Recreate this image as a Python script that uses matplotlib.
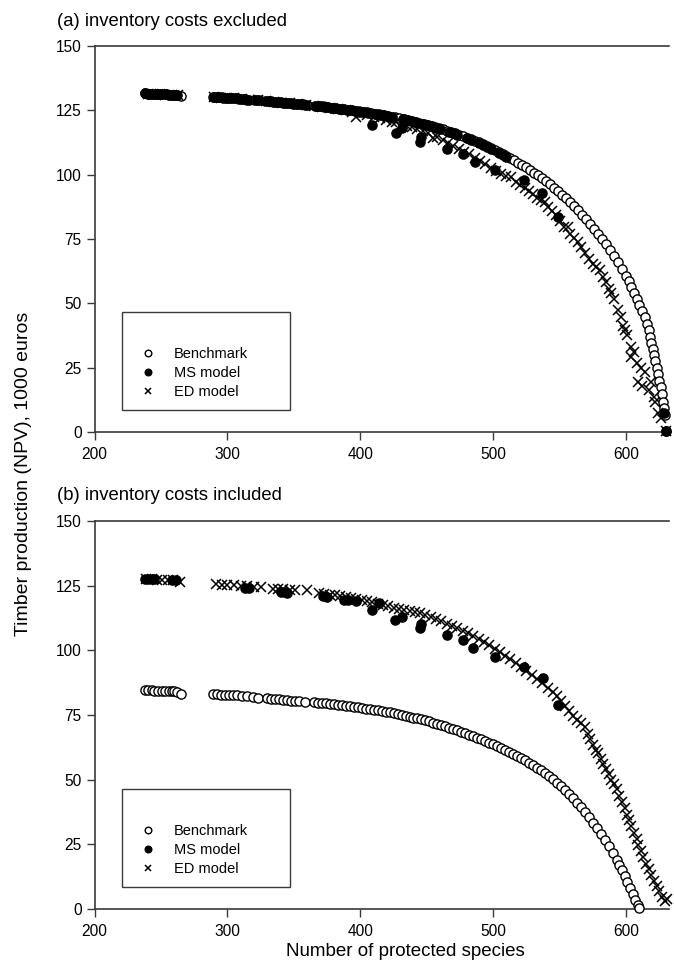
import matplotlib
matplotlib.use("Agg")
import matplotlib.pyplot as plt
from matplotlib.patches import Rectangle

plt.rcParams['font.family'] = ['Liberation Sans', 'DejaVu Sans']

# ---- (a) inventory costs excluded ----
bench_a_x = [238, 240, 242, 245, 247, 249, 251, 254, 256, 258, 260, 262, 265,
             289, 291, 294, 296, 299, 301, 304, 307, 310, 313, 316, 321, 324,
             330, 333, 336, 339, 342, 345, 348, 351, 354, 357, 360, 366, 369,
             372, 375, 378, 381, 384, 387, 390, 393, 396, 399, 402, 405, 408,
             411, 414, 417, 420, 423, 426, 429, 432, 435, 438, 441, 444, 447,
             450, 453, 456, 459, 462, 465, 468, 471, 474, 477, 480, 483, 486,
             489, 492, 495, 498, 501, 504, 507, 510, 513, 516, 519, 522, 525,
             528, 531, 534, 537, 540, 543, 546, 549, 552, 555, 558, 561, 564,
             567, 570, 573, 576, 579, 582, 585, 588, 591, 594, 597, 600, 602,
             604, 606, 608, 610, 612, 614, 616, 617, 618, 619, 620, 621, 622,
             623, 624, 625, 626, 627, 628, 628.5, 629, 630]
bench_a_y = [131.6, 131.5, 131.5, 131.4, 131.3, 131.4, 131.2, 131.2, 131.1, 131.0, 131.1, 130.8, 130.4,
             130.2, 130.1, 130.0, 130.0, 129.9, 129.8, 129.7, 129.6, 129.5, 129.4, 129.2, 129.0, 128.9,
             128.6, 128.5, 128.3, 128.2, 128.0, 127.9, 127.7, 127.6, 127.4, 127.3, 127.1, 126.8, 126.6,
             126.5, 126.3, 126.1, 125.9, 125.7, 125.5, 125.3, 125.1, 124.9, 124.6, 124.4, 124.2, 123.9,
             123.7, 123.4, 123.1, 122.9, 122.6, 122.3, 122.0, 121.7, 121.3, 121.0, 120.6, 120.2, 119.8,
             119.4, 119.0, 118.5, 118.1, 117.6, 117.1, 116.6, 116.0, 115.5, 114.9, 114.3, 113.7, 113.1,
             112.5, 111.8, 111.1, 110.4, 109.7, 108.9, 108.1, 107.3, 106.5, 105.6, 104.7, 103.8, 102.8,
             101.8, 100.8, 99.7, 98.6, 97.4, 96.2, 94.9, 93.6, 92.2, 90.8, 89.3, 87.7, 86.1,
             84.4, 82.6, 80.8, 78.9, 77.0, 75.0, 72.9, 70.7, 68.4, 66.0, 63.4, 60.6, 58.6,
             56.5, 54.2, 51.8, 49.4, 47.0, 44.6, 42.1, 39.5, 37.1, 34.7, 32.3, 29.9, 27.4,
             25.0, 22.5, 20.0, 17.4, 14.7, 11.8, 9.2, 6.8, 0.4]

ms_a_x = [238, 240, 243, 246, 248, 251, 254, 257, 260, 262,
          290, 293, 297, 300, 303, 306, 309, 312, 315, 322, 328, 331, 334, 337,
          340, 343, 346, 349, 352, 355, 358, 367, 370, 373, 376, 379, 382, 385,
          388, 391, 394, 397, 400, 403, 406, 408.6, 412, 415, 418, 421, 424, 427,
          431, 433, 436, 439, 442, 445, 446, 448, 451, 454, 457, 460, 465, 467,
          470, 473, 477.5, 480, 483, 486, 489, 492, 495, 498, 501.6, 504, 507,
          510, 523, 537, 549, 628.5, 630]
ms_a_y = [131.6, 131.5, 131.4, 131.4, 131.3, 131.2, 131.3, 131.1, 131.0, 130.9,
          130.1, 130.0, 129.9, 129.8, 129.8, 129.6, 129.5, 129.4, 129.2, 129.0, 128.7, 128.6, 128.4, 128.3,
          128.1, 128.0, 127.8, 127.6, 127.5, 127.3, 127.2, 126.7, 126.5, 126.4, 126.2, 126.0, 125.8, 125.6,
          125.4, 125.2, 125.0, 124.7, 124.5, 124.3, 124.0, 119.3, 123.6, 123.3, 123.0, 122.7, 122.4, 116.2,
          118.0, 121.5, 121.2, 120.8, 120.4, 112.7, 114.6, 119.6, 119.2, 118.8, 118.3, 117.8, 110.0, 116.7,
          116.0, 115.6, 108.0, 114.2, 113.5, 105.0, 112.2, 111.5, 110.8, 110.0, 102.0, 108.6, 107.8,
          106.8, 98.0, 93.0, 83.5, 7.5, 0.4]

ed_a_x = [240, 244, 249, 253, 258, 263,
          290, 295, 300, 305, 311, 317, 323, 329, 335, 341, 347, 353, 359, 365,
          371, 377, 383, 389, 394, 397, 401, 405, 410, 415, 419, 423.6, 427, 431,
          435, 439, 443, 447, 451, 455, 458, 462, 466, 470, 474, 478, 482, 486,
          490, 494, 498, 502, 506, 510, 513.5, 517, 520, 524, 527, 530, 533, 536,
          539, 541, 544, 547, 550, 553, 556, 558, 561, 564, 566, 569, 572, 575,
          577, 580, 583, 585, 587, 589, 591, 594, 596, 598, 599, 601, 604, 606,
          604, 608, 611, 614, 609, 612, 619, 617, 621, 622, 624, 626, 630]
ed_a_y = [131.4, 131.3, 131.2, 131.1, 131.0, 130.8,
          130.1, 129.9, 129.8, 129.6, 129.4, 129.1, 128.9, 128.6, 128.3, 128.0, 127.7, 127.4, 127.1, 126.7,
          126.3, 125.9, 125.4, 125.0, 124.5, 122.3, 123.8, 123.3, 122.6, 122.0, 121.4, 120.5, 120.3, 119.7,
          119.0, 118.4, 117.6, 116.8, 116.0, 114.2, 114.6, 113.4, 112.3, 111.2, 110.1, 109.0, 107.9, 106.6,
          105.3, 104.0, 102.6, 101.5, 100.2, 99.6, 99.0, 97.3, 96.0, 94.8, 93.5, 92.3, 91.0, 90.1,
          89.2, 87.6, 86.0, 84.2, 82.0, 79.5, 79.8, 77.0, 75.4, 73.8, 72.0, 69.6, 67.4, 65.2,
          64.3, 63.0, 60.4, 58.2, 55.6, 53.9, 51.5, 47.4, 44.8, 41.2, 39.6, 37.5, 33.1, 31.0,
          29.3, 27.0, 24.8, 23.4, 19.5, 18.0, 19.5, 16.2, 13.7, 11.5, 7.3, 5.5, 0.4]

# ---- (b) inventory costs included ----
bench_b_x = [238, 240, 243, 245, 248, 251, 253, 256, 258, 260, 262, 265,
             289, 292, 295, 298, 301, 304, 307, 311, 315, 319, 323, 330, 333,
             336, 339, 342, 345, 348, 351, 354, 358, 365, 368, 371, 374, 377,
             380, 383, 386, 389, 392, 395, 398, 401, 404, 407, 410, 413, 416,
             419, 422, 425, 428, 431, 434, 437, 440, 443, 446, 449, 452, 455,
             458, 461, 464, 467, 470, 473, 476, 479, 482, 485, 488, 491, 494,
             497, 500, 503, 506, 509, 512, 515, 518, 521, 524, 527, 530, 533,
             536, 539, 542, 545, 548, 551, 554, 557, 560, 563, 566, 569, 572,
             575, 578, 581, 584, 587, 590, 593, 595, 597, 599, 601, 603, 605,
             607, 609, 610]
bench_b_y = [84.6, 84.5, 84.5, 84.4, 84.4, 84.3, 84.4, 84.2, 84.3, 84.1, 84.0, 83.3,
             83.1, 83.0, 82.9, 82.9, 82.8, 82.6, 82.6, 82.4, 82.2, 82.0, 81.7, 81.4, 81.3,
             81.2, 81.0, 80.9, 80.8, 80.6, 80.5, 80.4, 80.2, 80.0, 79.8, 79.7, 79.5, 79.3,
             79.2, 79.0, 78.8, 78.6, 78.4, 78.2, 78.0, 77.8, 77.5, 77.3, 77.1, 76.8, 76.5,
             76.3, 76.0, 75.7, 75.4, 75.1, 74.7, 74.4, 74.0, 73.7, 73.3, 72.9, 72.5, 72.0,
             71.6, 71.1, 70.6, 70.1, 69.6, 69.1, 68.5, 68.0, 67.4, 66.8, 66.2, 65.6, 65.0,
             64.3, 63.7, 63.0, 62.3, 61.5, 60.8, 60.0, 59.2, 58.4, 57.5, 56.6, 55.6, 54.6,
             53.6, 52.5, 51.3, 50.1, 48.8, 47.4, 46.0, 44.4, 42.8, 41.1, 39.3, 37.4, 35.5,
             33.4, 31.2, 29.0, 26.7, 24.3, 21.8, 19.1, 17.2, 15.1, 12.9, 10.6, 8.2, 5.9,
             3.6, 1.6, 0.3]

ms_b_x = [238, 240, 243, 245, 258, 261, 313, 316, 340, 343, 345, 372, 375,
          388, 391, 397, 408.6, 414, 426, 431, 445, 446, 465, 477.6, 485, 501,
          523, 537.6, 549]
ms_b_y = [127.7, 127.6, 127.5, 127.4, 127.3, 127.1, 124.2, 124.0, 122.6, 122.4, 122.3, 121.0, 120.8,
          119.6, 119.4, 119.0, 115.6, 118.3, 111.7, 113.0, 108.6, 110.0, 106.0, 104.0, 100.8, 97.5,
          93.7, 89.2, 78.9]

ed_b_x = [239, 243, 247, 251, 255, 259, 264,
          291, 296, 300, 305, 310, 315, 320, 325, 334, 338, 342, 347, 351, 360,
          369, 373, 377, 381, 385, 389, 393, 397, 401, 405, 409, 413, 417, 421,
          425, 429, 433, 437, 441, 445, 449, 453, 457, 461, 465, 469, 473, 477,
          481, 485, 489, 493, 497, 501, 505, 509, 513, 517, 521, 525, 529, 533,
          537, 541, 545, 548, 551, 554, 557, 560, 563, 566, 569, 571, 573, 575,
          577, 579, 581, 583, 585, 587, 589, 591, 593, 595, 597, 599, 601, 602,
          604, 606, 608, 609, 611, 613, 615, 617, 619, 621, 623, 625, 627, 629, 631]
ed_b_y = [127.6, 127.4, 127.3, 127.2, 127.1, 127.0, 126.5,
          125.6, 125.4, 125.3, 125.1, 125.0, 124.8, 124.6, 124.4, 123.9, 123.8, 123.6, 123.5, 123.3, 123.2,
          122.0, 121.8, 121.5, 121.2, 120.9, 120.6, 120.2, 119.8, 119.4, 119.0, 118.6, 118.1, 117.6, 117.1,
          116.5, 116.0, 115.6, 115.3, 114.9, 114.3, 113.6, 112.8, 112.0, 111.2, 110.3, 109.4, 108.5, 107.6,
          106.7, 105.5, 104.4, 103.2, 102.0, 100.7, 99.3, 97.9, 96.5, 95.0, 93.4, 91.9, 90.4, 88.9,
          87.3, 85.6, 83.9, 82.2, 80.3, 78.4, 76.6, 74.8, 73.0, 71.8, 70.3, 67.5, 65.6, 63.5,
          61.6, 60.2, 58.0, 56.2, 54.0, 52.0, 50.0, 48.5, 46.2, 43.8, 41.5, 38.9, 36.4, 34.3,
          32.0, 29.5, 27.0, 24.6, 22.4, 20.0, 17.5, 15.3, 13.0, 11.0, 9.0, 7.0, 4.8, 3.2, 4.0]

labels = ['Benchmark', 'MS model', 'ED model']
panel_titles = ['(a) inventory costs excluded', '(b) inventory costs included']
y_ticks = [0, 25, 50, 75, 100, 125, 150]
x_ticks = [200, 300, 400, 500, 600]

fig = plt.figure(figsize=(6.74, 9.67), dpi=100)
W, H = 674, 967
ax_a = fig.add_axes([94.6 / W, 1 - 432 / H, 574 / W, 386 / H])
ax_b = fig.add_axes([94.6 / W, 1 - 909 / H, 574 / W, 388 / H])

spine_col = '#3a3a3a'
panels = [(ax_a, bench_a_x, bench_a_y, ms_a_x, ms_a_y, ed_a_x, ed_a_y),
          (ax_b, bench_b_x, bench_b_y, ms_b_x, ms_b_y, ed_b_x, ed_b_y)]

for i, (ax, bx, by, mx, my, ex, ey) in enumerate(panels):
    h1, = ax.plot(bx, by, 'o', ls='none', ms=6.6, mfc='white', mec='black', mew=1.0,
                  label=labels[0], clip_on=False, zorder=3)
    h2, = ax.plot(mx, my, 'o', ls='none', ms=6.6, mfc='black', mec='black', mew=1.0,
                  label=labels[1], clip_on=False, zorder=4)
    h3, = ax.plot(ex, ey, 'x', ls='none', ms=6.6, color='black', mew=1.1,
                  label=labels[2], clip_on=False, zorder=5)

    ax.set_xlim(200, 632)
    ax.set_ylim(0, 150)
    ax.set_xticks(x_ticks)
    ax.set_yticks(y_ticks)
    ax.tick_params(direction='out', length=5.8, width=1, colors='black',
                   labelsize=11.2, color=spine_col, pad=3.5)
    ax.tick_params(axis='x', pad=5)
    ax.spines['right'].set_visible(False)
    for s in ['left', 'bottom', 'top']:
        ax.spines[s].set_color(spine_col)
        ax.spines[s].set_linewidth(1.2)

    # legend frame drawn separately (more room above the entries)
    ax.add_patch(Rectangle((0.047, 0.057), 0.293, 0.253, transform=ax.transAxes,
                           fill=False, ec=spine_col, lw=1.0, zorder=6))
    ax.legend(handles=[h1, h2, h3], loc='lower left', bbox_to_anchor=(0.07, 0.07),
              frameon=False, fontsize=10.5, markerscale=0.72, handlelength=1.0,
              handletextpad=1.3, labelspacing=0.35, borderaxespad=0)

    fig.text(57 / W, 1 - (21 if i == 0 else 495) / H, panel_titles[i],
             fontsize=13.3, ha='left', va='center')

fig.text(24 / W, 1 - 474 / H, 'Timber production (NPV), 1000 euros',
         rotation=90, fontsize=14, ha='center', va='center')
fig.text(405 / W, 1 - 951 / H, 'Number of protected species',
         fontsize=13.5, ha='center', va='center')

fig.savefig('out.png', dpi=100)
